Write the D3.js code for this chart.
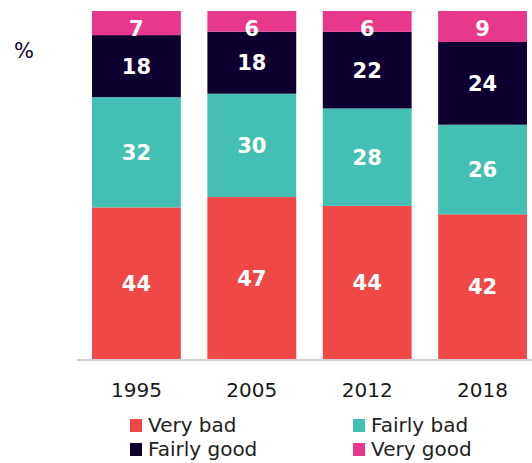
<!DOCTYPE html>
<html>
<head>
<meta charset="utf-8">
<script src="https://cdn.jsdelivr.net/npm/d3@7"></script>
<style>
  body { margin: 0; background: #fff; }
  svg { display: block; font-family: "DejaVu Sans", sans-serif; }
</style>
</head>
<body>
<svg width="532" height="463"></svg>
<script>
// data
const years = ['1995', '2005', '2012', '2018'];
const series = ['Very bad', 'Fairly bad', 'Fairly good', 'Very good'];
const veryBad = [44, 47, 44, 42];
const fairlyBad = [32, 30, 28, 26];
const fairlyGood = [18, 18, 22, 24];
const veryGood = [7, 6, 6, 9];
const colors = ['#F04846', '#44BFB4', '#0D0030', '#E8388C'];

const rows = years.map((y, i) => ({
    year: y,
    'Very bad': veryBad[i],
    'Fairly bad': fairlyBad[i],
    'Fairly good': fairlyGood[i],
    'Very good': veryGood[i]
}));

const svg = d3.select('svg');

const x = d3.scaleBand()
    .domain(years)
    .range([92, 527])
    .paddingInner(0.23)
    .paddingOuter(0);

const y = d3.scaleLinear()
    .domain([0, 1])
    .range([359, 11]);

const color = d3.scaleOrdinal().domain(series).range(colors);

// 합계로 정규화해서 쌓기
const stack = d3.stack().keys(series).offset(d3.stackOffsetExpand);
const stacked = stack(rows);

const layers = svg.append('g')
    .selectAll('g')
    .data(stacked)
    .enter().append('g')
    .attr('fill', d => color(d.key));

layers.selectAll('rect')
    .data(d => d.map(p => ({ key: d.key, p: p })))
    .enter().append('rect')
    .attr('x', d => x(d.p.data.year))
    .attr('width', x.bandwidth())
    .attr('y', d => y(d.p[1]))
    .attr('height', d => y(d.p[0]) - y(d.p[1]));

// 값 레이블
layers.selectAll('text')
    .data(d => d.map(p => ({ key: d.key, p: p })))
    .enter().append('text')
    .attr('x', d => x(d.p.data.year) + x.bandwidth() / 2)
    .attr('y', d => {
        const mid = (y(d.p[0]) + y(d.p[1])) / 2;
        return Math.max(mid, y(d.p[1]) + 17.5);
    })
    .attr('dy', '0.36em')
    .attr('text-anchor', 'middle')
    .attr('fill', '#fff')
    .attr('font-weight', 700)
    .attr('font-size', '21px')
    .text(d => d.p.data[d.key]);

// baseline
svg.append('line')
    .attr('x1', 77).attr('x2', 532)
    .attr('y1', 360).attr('y2', 360)
    .attr('stroke', '#d0d0d0')
    .attr('stroke-width', 2);

// x axis
const xAxis = svg.append('g')
    .attr('transform', 'translate(0,361)')
    .call(d3.axisBottom(x).tickSize(0).tickPadding(0));
xAxis.select('.domain').remove();
xAxis.selectAll('text')
    .attr('y', 36)
    .attr('dy', 0)
    .attr('font-family', '"DejaVu Sans", sans-serif')
    .attr('font-size', '20px')
    .attr('fill', '#1a1a1a');

// % 표시
svg.append('text')
    .attr('x', 24).attr('y', 58)
    .attr('text-anchor', 'middle')
    .attr('font-size', '21px')
    .attr('fill', '#0D0030')
    .text('%');

// legend
const legend = svg.append('g')
    .selectAll('g')
    .data(series)
    .enter().append('g')
    .attr('transform', (d, i) => `translate(${i % 2 === 0 ? 130 : 353},${i < 2 ? 419 : 443})`);

legend.append('rect')
    .attr('width', 12).attr('height', 13)
    .attr('fill', d => color(d));

legend.append('text')
    .attr('x', 18).attr('y', 13)
    .attr('font-size', '20px')
    .attr('fill', '#222')
    .text(d => d);
</script>
</body>
</html>
